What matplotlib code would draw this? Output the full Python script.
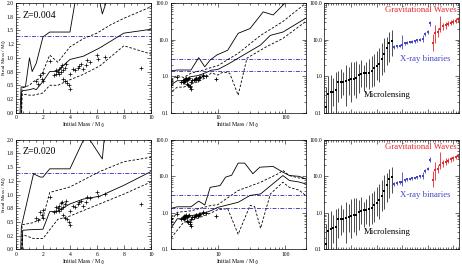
import matplotlib
matplotlib.use("Agg")
import matplotlib.pyplot as plt
from matplotlib.ticker import AutoMinorLocator, LogLocator, FixedLocator, NullFormatter, MultipleLocator
import numpy as np

plt.rcParams['font.family'] = ['Liberation Serif', 'DejaVu Serif']
plt.rcParams['mathtext.fontset'] = 'stix'

# ---- model tracks, Z = 0.004 ----
z004_max_x = [0.3, 0.38, 0.7, 1.0, 1.2, 1.5, 2.0, 2.5, 4.0, 5.2, 6.4, 7.7, 9.7, 14, 20, 30, 47, 66, 92, 130]
z004_max_y = [0.0, 0.47, 0.47, 1.0, 0.75, 0.9, 1.38, 1.47, 1.47, 3.2, 1.8, 2.76, 3.8, 5.1, 14.8, 20, 57, 47, 87, 160]
z004_med_x = [0.38, 0.42, 0.5, 1.0, 1.3, 1.5, 2.0, 2.5, 3.1, 3.5, 4.0, 5.0, 6.2, 7.4, 8.0, 10, 14, 20, 30, 43, 60, 92, 200]
z004_med_y = [0.0, 0.38, 0.40, 0.42, 0.44, 0.42, 0.57, 0.75, 0.75, 0.86, 0.97, 1.03, 1.18, 1.36, 1.45, 1.52, 2.1, 3.1, 4.8, 7.1, 13, 16, 38]
z004_hi_x = [0.4, 0.45, 1.0, 1.3, 1.8, 2.5, 3.1, 4.0, 5.0, 6.0, 7.0, 8.0, 10, 20, 43, 92, 200]
z004_hi_y = [0.0, 0.45, 0.5, 0.57, 0.63, 1.05, 0.92, 1.2, 1.35, 1.45, 1.6, 1.72, 1.93, 4.2, 13, 31, 98]
z004_lo_x = [0.42, 0.45, 1.0, 1.3, 2.0, 2.5, 3.1, 4.0, 5.0, 6.2, 8.0, 10, 12, 15, 20, 27, 52, 92, 200]
z004_lo_y = [0.0, 0.34, 0.32, 0.32, 0.36, 0.5, 0.5, 0.6, 0.7, 0.85, 1.22, 1.07, 1.3, 1.2, 0.3, 3.1, 6.3, 10.7, 31]

# ---- model tracks, Z = 0.020 ----
z020_max_x = [0.35, 0.4, 1.3, 1.8, 2.0, 2.5, 4.0, 5.2, 6.4, 7.7, 10.8, 13, 16, 20, 25, 33, 42, 66, 92, 115, 160, 200]
z020_max_y = [0.0, 0.42, 1.38, 1.32, 1.32, 1.47, 1.47, 2.1, 1.65, 5.0, 5.6, 9.5, 10.7, 23, 23, 11.8, 17.8, 18.6, 13, 10.5, 10, 8.5]
z020_med_x = [0.45, 0.5, 1.0, 2.0, 2.5, 3.1, 4.0, 5.0, 6.2, 8.0, 10, 20, 30, 43, 92, 115, 160, 200]
z020_med_y = [0.0, 0.35, 0.36, 0.37, 0.69, 0.7, 0.83, 0.92, 0.97, 1.17, 1.42, 1.95, 3.0, 3.3, 10.5, 7.7, 7.0, 6.2]
z020_hi_x = [0.42, 0.45, 1.3, 2.0, 2.5, 4.0, 6.2, 8.0, 10, 20, 43, 80, 92, 115, 160, 200]
z020_hi_y = [0.0, 0.45, 0.49, 0.58, 1.04, 1.14, 1.42, 1.6, 1.68, 4.1, 6.9, 12, 14.5, 10.5, 9.0, 8.5]
z020_lo_x = [0.45, 0.5, 1.3, 2.0, 3.1, 4.0, 6.2, 8.0, 10, 14, 20, 30, 35, 43, 60, 92, 115, 160, 200]
z020_lo_y = [0.0, 0.27, 0.2, 0.2, 0.55, 0.61, 0.83, 1.01, 1.23, 1.3, 0.26, 1.6, 1.5, 0.38, 3.3, 6.9, 5.0, 4.2, 3.0]

# ---- observed white dwarf initial-final masses ----
obs_x = [1.5, 1.6, 1.8, 1.9, 2.0, 2.0, 2.5, 2.8, 3.0, 3.0, 3.1, 3.2, 3.2, 3.3, 3.3, 3.4, 3.5, 3.5, 3.6,
         3.6, 3.7, 3.8, 3.9, 4.0, 4.0, 4.2, 4.4, 4.6, 4.7, 4.8, 5.0, 5.2, 5.3, 5.5, 6.0, 6.1, 6.6, 9.3]
obs_y = [0.57, 0.53, 0.68, 0.62, 0.58, 0.72, 0.95, 0.68, 0.71, 0.78, 0.75, 0.80, 0.70, 0.84, 0.74, 0.87, 0.78, 0.62, 0.58,
         0.82, 0.88, 0.55, 0.50, 0.44, 0.70, 0.79, 0.78, 0.82, 0.86, 0.88, 0.80, 0.87, 0.96, 0.93, 1.05, 0.98, 1.02, 0.82]

# ---- compact object masses (right panels) ----
micro_m = [0.14, 0.32, 0.37, 0.38, 0.42, 0.67, 0.68, 0.70, 0.74, 0.78, 0.83, 0.86, 0.88, 1.07,
           1.15, 1.18, 1.2, 1.25, 1.35, 1.63, 1.9, 2.2, 2.9, 4.0, 5.8, 8.2, 9.3]
micro_lo = [0.1, 0.1, 0.1, 0.15, 0.1, 0.2, 0.25, 0.3, 0.15, 0.3, 0.2, 0.3, 0.25, 0.35,
            0.5, 0.4, 0.5, 0.45, 0.5, 0.55, 0.8, 0.7, 1.1, 1.3, 2.0, 2.5, 3.5]
micro_hi = [0.5, 1.0, 1.1, 0.9, 1.3, 1.4, 1.6, 1.3, 2.0, 1.8, 2.4, 2.5, 2.6, 2.2,
            2.8, 2.0, 2.4, 3.0, 3.5, 4.0, 5.0, 6.0, 8.0, 11, 12, 16, 18]
xrb_m = [6.3, 6.6, 6.8, 7.0, 7.8, 8.3, 8.5, 8.8, 9.0, 9.5, 10.0, 10.5, 14, 16, 28]
xrb_lo = [5.6, 5.9, 6.1, 5.5, 7.1, 7.6, 7.9, 8.1, 8.3, 8.7, 9.1, 8.5, 12.5, 14.5, 24]
xrb_hi = [7.0, 7.3, 7.5, 13, 8.5, 9.0, 9.2, 9.5, 9.8, 10.3, 11, 13, 16, 18, 33]
gw_m = [7.9, 14.8, 16, 20, 23, 25, 27, 29, 31, 33, 36]
gw_lo = [5.0, 8.0, 12, 16, 18, 20, 23, 25, 27, 29, 31]
gw_hi = [14, 25, 21, 45, 28, 31, 32, 34, 36, 38, 41]

BLUE = '#4646c8'
RED = '#e6282d'
LW = 0.6
DASHDOT = (4, 1.5, 1, 1.5)


def style(ax):
    ax.tick_params(which='both', direction='in', top=True, right=True, labelsize=4, width=0.4, pad=1.5)
    ax.tick_params(which='major', length=3)
    ax.tick_params(which='minor', length=1.5)
    for s in ax.spines.values():
        s.set_linewidth(0.5)


def tracks(ax, d, log=False):
    for (x, y), ls in zip(d, ['-', '-', '--', '--']):
        x = np.array(x)
        y = np.array(y)
        if log:
            keep = y > 0
            x, y = x[keep], y[keep]
        line, = ax.plot(x, y, color='black', lw=LW)
        if ls == '--':
            line.set_dashes((3, 2))


def lin_panel(ax, d, label):
    ax.axhline(1.4, color=BLUE, lw=0.7, dashes=DASHDOT)
    tracks(ax, d)
    ax.plot(obs_x, obs_y, '+', color='black', ms=3, mew=0.5)
    ax.set_xlim(0, 10)
    ax.set_ylim(0, 2.0)
    ax.xaxis.set_minor_locator(AutoMinorLocator(4))
    ax.yaxis.set_minor_locator(AutoMinorLocator(5))
    ax.yaxis.set_major_formatter(lambda v, p: '%.1f' % v)
    ax.set_xlabel(r'Initial Mass / M$_\odot$', fontsize=4.2, labelpad=1)
    ax.set_ylabel(r'Final Mass / M$_\odot$', fontsize=3.8)
    ax.yaxis.set_label_coords(-0.058, 0.5)
    ax.text(0.05, 0.93, label, transform=ax.transAxes, fontsize=7, va='top')
    style(ax)


def log_y(ax):
    ax.set_yscale('log')
    ax.set_ylim(0.1, 100)
    ax.yaxis.set_major_locator(FixedLocator([0.1, 1, 10, 100]))
    ax.yaxis.set_major_formatter(lambda v, p: '%.1f' % v)
    ax.yaxis.set_minor_locator(LogLocator(subs=range(2, 10)))
    ax.yaxis.set_minor_formatter(NullFormatter())


def log_panel(ax, d):
    ax.axhline(1.4, color=BLUE, lw=0.7, dashes=DASHDOT)
    ax.axhline(3.0, color=BLUE, lw=0.7, dashes=DASHDOT)
    tracks(ax, d, log=True)
    ax.plot(obs_x, obs_y, '+', color='black', ms=3, mew=0.6)
    ax.set_xscale('log')
    ax.set_xlim(2, 200)
    ax.xaxis.set_major_locator(FixedLocator([10, 100]))
    ax.xaxis.set_major_formatter(lambda v, p: '%d' % v)
    ax.xaxis.set_minor_locator(LogLocator(subs=range(2, 10)))
    ax.xaxis.set_minor_formatter(NullFormatter())
    log_y(ax)
    ax.set_xlabel(r'Initial Mass / M$_\odot$', fontsize=4.2, labelpad=1)
    style(ax)


def obj_panel(ax):
    n1, n2 = len(micro_m), len(xrb_m)
    groups = [(micro_m, micro_lo, micro_hi, 0, 'black', '#303030'),
              (xrb_m, xrb_lo, xrb_hi, n1, BLUE, BLUE),
              (gw_m, gw_lo, gw_hi, n1 + n2, RED, RED)]
    for m, lo, hi, off, c, ec in groups:
        m = np.array(m)
        x = np.arange(len(m)) + off
        err = [m - np.array(lo), np.array(hi) - m]
        ax.errorbar(x, m, yerr=err, fmt='s', color=c, ecolor=ec, ms=1.8, elinewidth=0.6, capsize=0, mew=0)
    ntot = n1 + n2 + len(gw_m)
    ax.set_xlim(-0.5, ntot - 0.7)
    log_y(ax)
    ax.xaxis.set_major_locator(MultipleLocator(10))
    ax.xaxis.set_minor_locator(MultipleLocator(1))
    ax.xaxis.set_major_formatter(NullFormatter())
    ax.text(0.98, 0.97, 'Gravitational Waves', color=RED, transform=ax.transAxes, fontsize=6.3, ha='right', va='top')
    ax.text(0.56, 0.53, 'X-ray binaries', color=BLUE, transform=ax.transAxes, fontsize=6.3, ha='left', va='top')
    ax.text(0.29, 0.20, 'Microlensing', color='black', transform=ax.transAxes, fontsize=6.3, ha='left', va='top')
    style(ax)


fig = plt.figure(figsize=(4.62, 2.69), dpi=100)
rows = [(0.581, [(z004_max_x, z004_max_y), (z004_med_x, z004_med_y), (z004_hi_x, z004_hi_y), (z004_lo_x, z004_lo_y)], 'Z=0.004'),
        (0.0725, [(z020_max_x, z020_max_y), (z020_med_x, z020_med_y), (z020_hi_x, z020_hi_y), (z020_lo_x, z020_lo_y)], 'Z=0.020')]
for bottom, d, label in rows:
    ax1 = fig.add_axes([0.0346, bottom, 0.292, 0.408])
    ax2 = fig.add_axes([0.3695, bottom, 0.292, 0.408])
    ax3 = fig.add_axes([0.702, bottom, 0.2916, 0.408])
    lin_panel(ax1, d, label)
    log_panel(ax2, d)
    obj_panel(ax3)

fig.savefig('out.png', dpi=100)
